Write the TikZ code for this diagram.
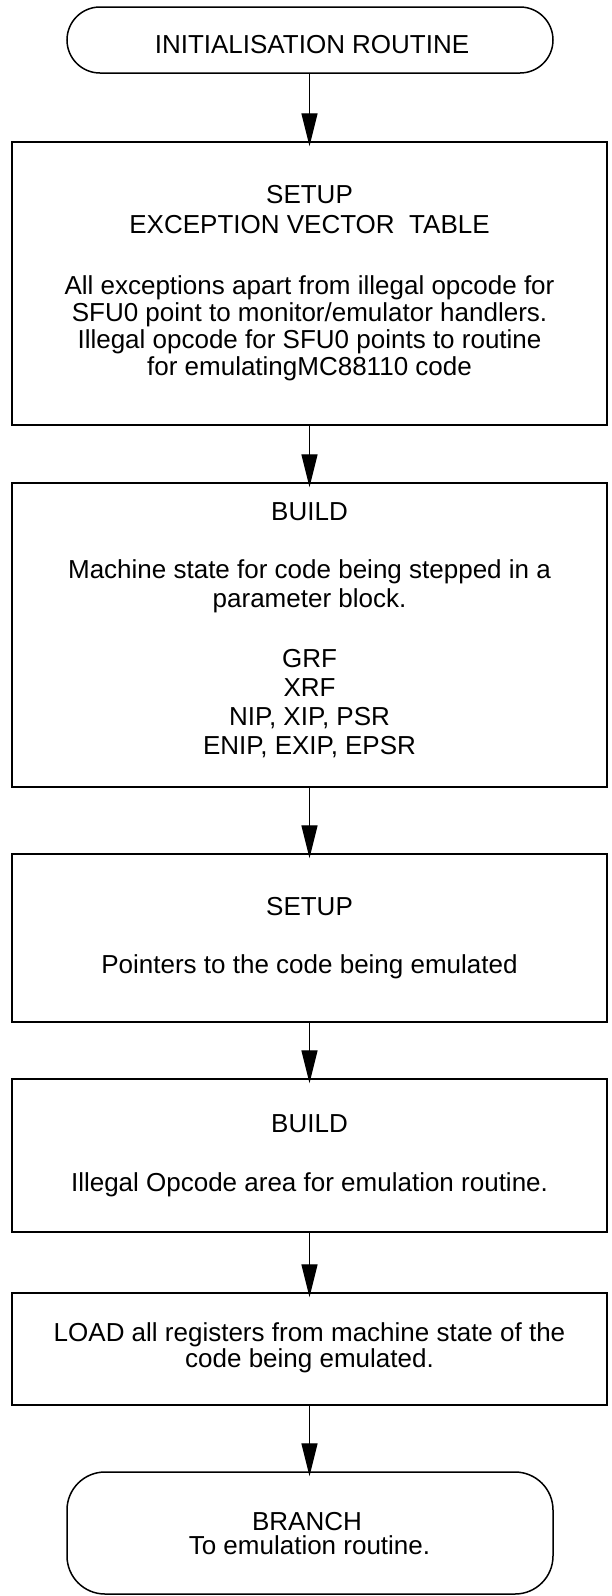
\documentclass[tikz,border=0pt]{standalone}
\usepackage{fontspec}
\setmainfont{Liberation Sans}
\usetikzlibrary{arrows.meta}
\begin{document}
\begin{tikzpicture}[x=1pt,y=-1pt,
  box/.style={draw, line width=1.5pt, inner sep=0pt, minimum width=595pt},
  term/.style={draw, line width=1.5pt, inner sep=0pt, minimum width=486pt},
  txt/.style={anchor=base, inner sep=0pt, font=\fontsize{26}{28}\selectfont},
  arr/.style={line width=1.4pt, -{Triangle[length=33pt,width=16pt]}, shorten >=-5pt}]
\useasboundingbox (0,0) rectangle (612,1596);
% shapes
\node[term, rounded corners=33pt, minimum height=66pt] (t1) at (310,40) {};
\node[box, minimum height=283pt] (b1) at (309.5,283.5) {};
\node[box, minimum height=304pt] (b2) at (309.5,635) {};
\node[box, minimum height=168pt] (b3) at (309.5,938) {};
\node[box, minimum height=153pt] (b4) at (309.5,1155.5) {};
\node[box, minimum height=112pt] (b5) at (309.5,1349) {};
\node[term, rounded corners=38pt, minimum height=122pt] (t2) at (310,1533) {};
% texts
\node[txt] (t1a) at (312,53) {INITIALISATION ROUTINE};
\node[txt] (b1a) at (309.5,203) {SETUP};
\node[txt] (b1b) at (309.5,233) {EXCEPTION VECTOR\ \ TABLE};
\node[txt] (b1c) at (309.5,294) {All exceptions apart from illegal opcode for};
\node[txt] (b1d) at (309.5,321) {SFU0 point to monitor/emulator handlers.};
\node[txt] (b1e) at (309.5,348) {Illegal opcode for SFU0 points to routine};
\node[txt] (b1f) at (309.5,375) {for emulatingMC88110 code};
\node[txt] (b2a) at (309.5,520) {BUILD};
\node[txt] (b2b) at (309.5,578) {Machine state for code being stepped in a};
\node[txt] (b2c) at (309.5,607) {parameter block.};
\node[txt] (b2d) at (309.5,667) {GRF};
\node[txt] (b2e) at (309.5,696) {XRF};
\node[txt] (b2f) at (309.5,725) {NIP, XIP, PSR};
\node[txt] (b2g) at (309.5,754) {ENIP, EXIP, EPSR};
\node[txt] (b3a) at (309.5,915) {SETUP};
\node[txt] (b3b) at (309.5,973) {Pointers to the code being emulated};
\node[txt] (b4a) at (309.5,1132) {BUILD};
\node[txt] (b4b) at (309.5,1191) {Illegal Opcode area for emulation routine.};
\node[txt] (b5a) at (309.5,1341) {LOAD all registers from machine state of the};
\node[txt] (b5b) at (309.5,1367) {code being emulated.};
\node[txt] (t2a) at (307,1530) {BRANCH};
\node[txt] (t2b) at (309.5,1554) {To emulation routine.};
% connectors
\draw[arr] (t1.south -| b1.north) -- (b1.north);
\draw[arr] (b1.south) -- (b2.north);
\draw[arr] (b2.south) -- (b3.north);
\draw[arr] (b3.south) -- (b4.north);
\draw[arr] (b4.south) -- (b5.north);
\draw[arr] (b5.south) -- (t2.north -| b5.south);
\end{tikzpicture}
\end{document}
